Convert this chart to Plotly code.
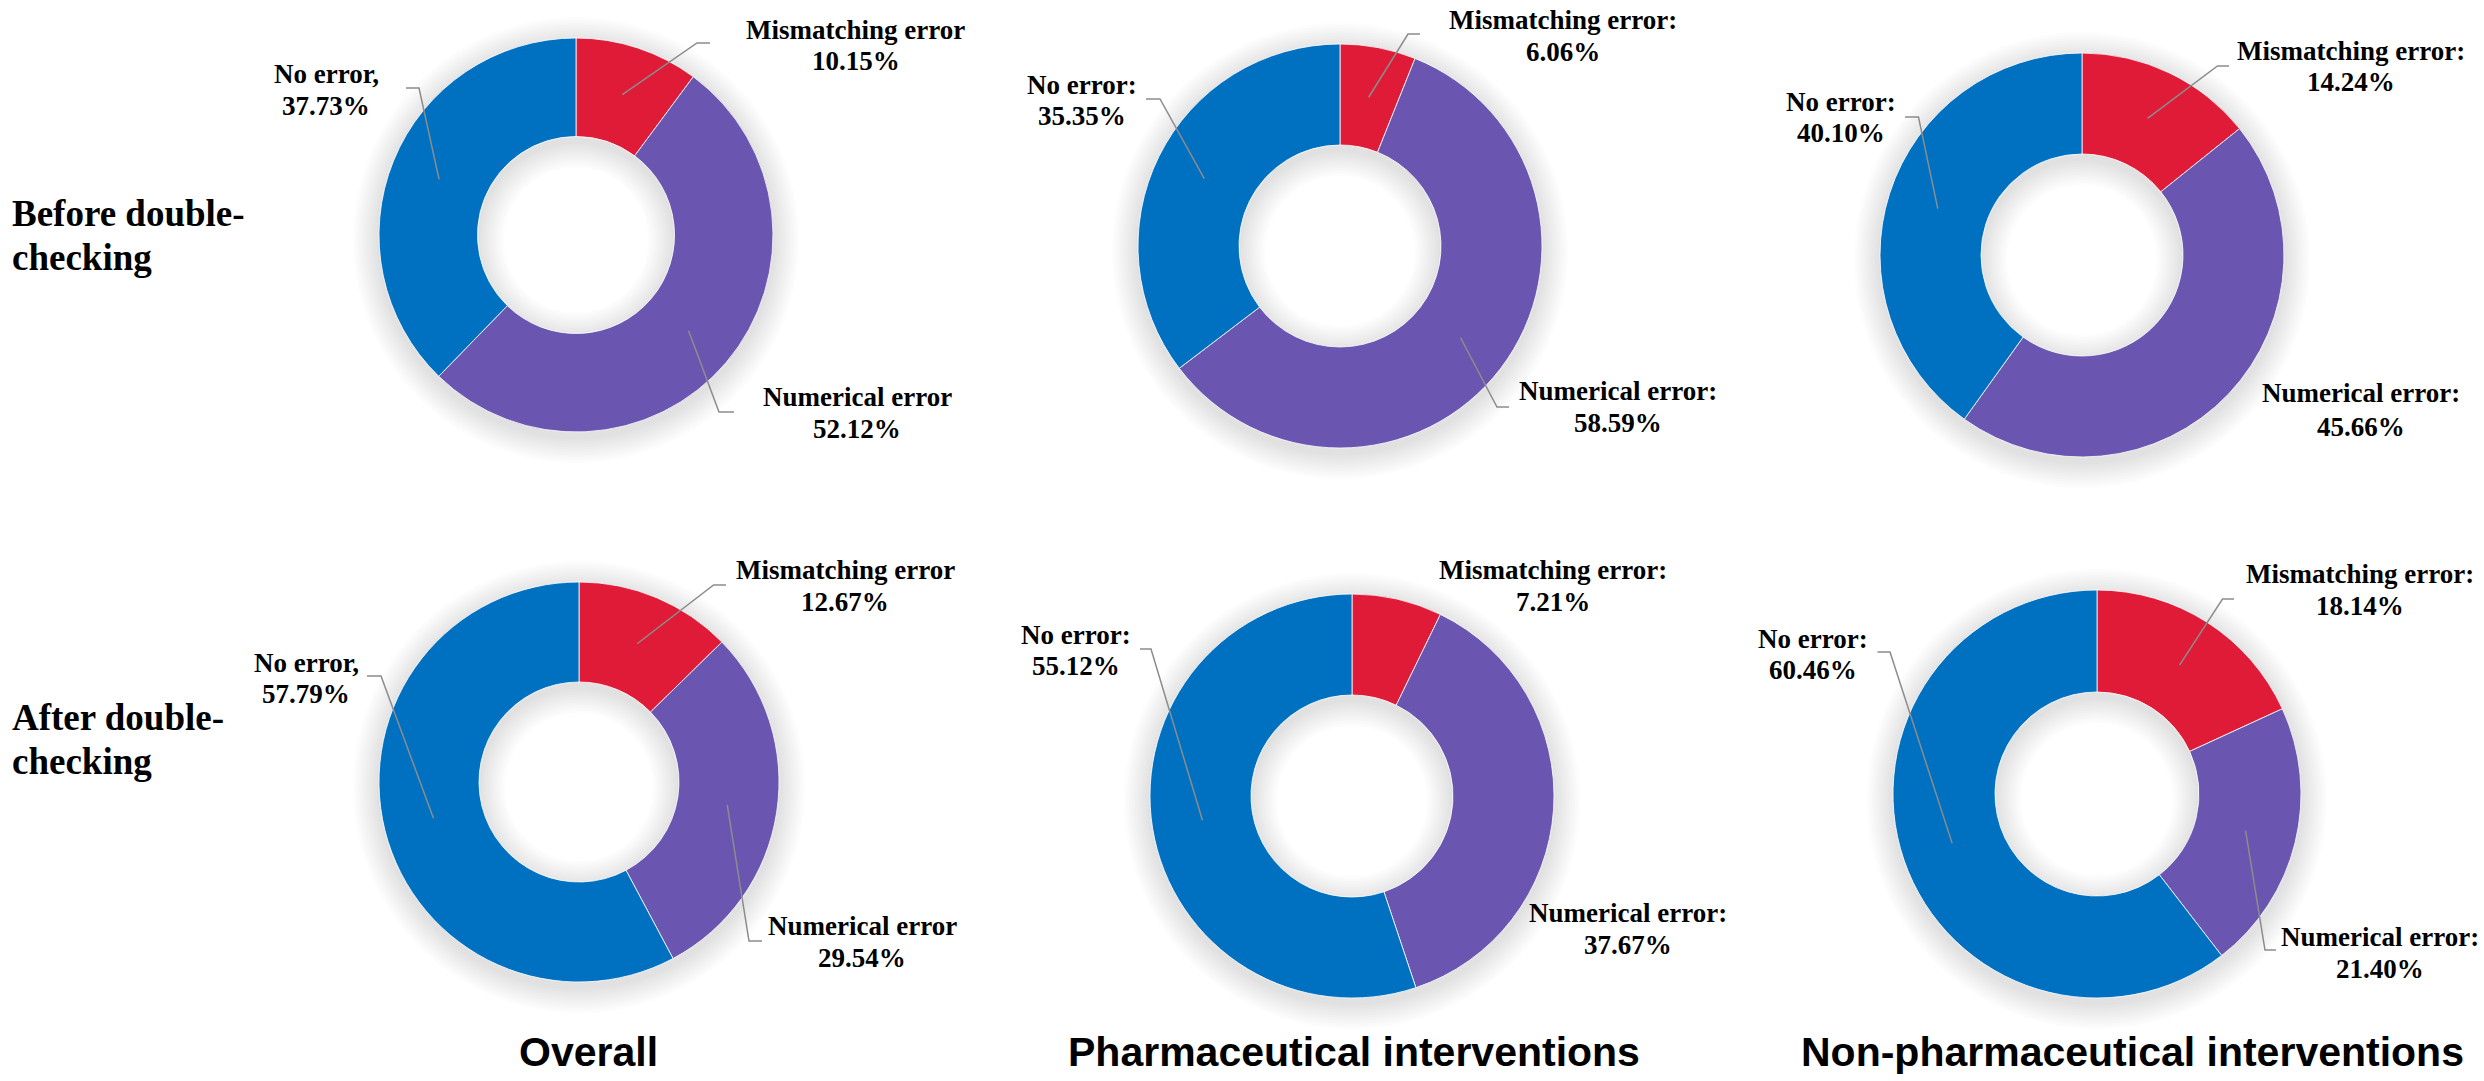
import math
import plotly.graph_objects as go

W, H = 2484, 1081

# ---------------- data ----------------
categories = ["Mismatching error", "Numerical error", "No error"]
colors = ["#DF1B38", "#6A56B0", "#0070C0"]
column_titles = ["Overall", "Pharmaceutical interventions", "Non-pharmaceutical interventions"]
row_titles = [["Before double-", "checking"], ["After double-", "checking"]]

before_overall = [10.15, 52.12, 37.73]
before_pharm = [6.06, 58.59, 35.35]
before_nonpharm = [14.24, 45.66, 40.10]
after_overall = [12.67, 29.54, 57.79]
after_pharm = [7.21, 37.67, 55.12]
after_nonpharm = [18.14, 21.40, 60.46]

overall_sep = ["", "", ","]
other_sep = [":", ":", ":"]

# ---------------- layout (pixel positions) ----------------
panels = [
    dict(values=before_overall, sep=overall_sep, c=(576, 235), R=197,
         labels=[(856, 30, 61.5), (857, 396.5, 429), (326, 73.5, 106)],
         leaders=[((697, 43), 710), ((719, 412), 734), ((419, 88), 406)]),
    dict(values=before_pharm, sep=other_sep, c=(1340, 246), R=202,
         labels=[(1563, 20, 51.5), (1618, 391.5, 423), (1082, 84.5, 115.5)],
         leaders=[((1408, 34), 1420), ((1497, 407), 1509), ((1160, 99), 1146)]),
    dict(values=before_nonpharm, sep=other_sep, c=(2082, 255), R=202,
         labels=[(2351, 51, 82), (2361, 393, 426.5), (1841, 101.5, 133)],
         leaders=[((2217.5, 66), 2229), None, ((1918.5, 117), 1905)]),
    dict(values=after_overall, sep=overall_sep, c=(579, 782), R=200,
         labels=[(845, 570, 602), (862, 926, 957.5), (306, 662.5, 693.5)],
         leaders=[((713.6, 585), 726), ((749, 941), 762), ((381, 676), 367)]),
    dict(values=after_pharm, sep=other_sep, c=(1352, 796), R=202,
         labels=[(1553, 570, 601.5), (1628, 913, 944.5), (1076, 634.5, 666)],
         leaders=[None, None, ((1151, 649), 1140)]),
    dict(values=after_nonpharm, sep=other_sep, c=(2097, 794), R=204,
         labels=[(2360, 574, 606), (2380, 937, 968.7), (1813, 638.6, 670)],
         leaders=[((2222.5, 599), 2234), ((2265, 950), 2276), ((1890, 652), 1877.5)]),
]

HOLE = 0.5
LABEL_FONT = dict(family="Times New Roman, Liberation Serif, serif", size=27, color="black", weight="bold")
ROW_FONT = dict(family="Times New Roman, Liberation Serif, serif", size=37, color="black", weight="bold")
TITLE_FONT = dict(family="Arial, Liberation Sans, sans-serif", size=41, color="black", weight="bold")


def px(x):
    return x / W


def py(y):
    return 1 - y / H


def ring_pts(cx, cy, r, n=120, reverse=False):
    pts = []
    for i in range(n):
        a = 2 * math.pi * i / n
        if reverse:
            a = -a
        pts.append((cx + r * math.cos(a), cy + r * math.sin(a)))
    return "M " + " L ".join(f"{px(x):.6f},{py(y):.6f}" for x, y in pts) + " Z"


def annulus_path(cx, cy, r_out, r_in):
    return ring_pts(cx, cy, r_out) + " " + ring_pts(cx, cy, max(r_in, 1), reverse=True)


fig = go.Figure()
shapes = []
annotations = []

for p in panels:
    cx, cy = p["c"]
    R = p["R"]
    r_in = R * HOLE
    # soft drop shadow of the ring (offset downward, blurred by layering)
    for k in range(1, 11):
        s = 2.6 * k
        shapes.append(dict(type="path", xref="paper", yref="paper", layer="below",
                           path=annulus_path(cx, cy + 5, R + s, r_in - s),
                           fillcolor="rgba(0,0,0,0.011)", line=dict(width=0)))

    fig.add_trace(go.Pie(
        values=p["values"], labels=categories, sort=False, direction="clockwise",
        rotation=0, hole=HOLE, textinfo="none", hoverinfo="label+percent",
        marker=dict(colors=colors, line=dict(color="rgba(255,255,255,0.8)", width=1)),
        domain=dict(x=[px(cx - R), px(cx + R)], y=[py(cy + R), py(cy - R)]),
        showlegend=False,
    ))

    total = sum(p["values"])
    cum = 0.0
    for i, v in enumerate(p["values"]):
        mid = (cum + v / 2) / total * 2 * math.pi
        cum += v
        lx, y1, y2 = p["labels"][i]
        annotations.append(dict(x=px(lx), y=py(y1), xref="paper", yref="paper",
                                text=categories[i] + p["sep"][i], showarrow=False,
                                xanchor="center", yanchor="middle", font=LABEL_FONT))
        annotations.append(dict(x=px(lx), y=py(y2), xref="paper", yref="paper",
                                text=f"{v:.2f}%", showarrow=False,
                                xanchor="center", yanchor="middle", font=LABEL_FONT))
        ld = p["leaders"][i]
        if ld is not None:
            (ex, ey), endx = ld
            ix = cx + 0.75 * R * math.sin(mid)
            iy = cy - 0.75 * R * math.cos(mid)
            shapes.append(dict(type="path", xref="paper", yref="paper", layer="above",
                               path=f"M {px(ix):.6f},{py(iy):.6f} L {px(ex):.6f},{py(ey):.6f} L {px(endx):.6f},{py(ey):.6f}",
                               line=dict(color="#8C8C8C", width=1.5)))

# row titles
row_line_y = [(213.5, 257), (717, 761)]
for r, lines in enumerate(row_titles):
    for j, t in enumerate(lines):
        annotations.append(dict(x=px(10), y=py(row_line_y[r][j]), xref="paper", yref="paper",
                                text=t, showarrow=False, xanchor="left", yanchor="middle",
                                font=ROW_FONT))

# column titles
title_x = [588, 1354, 2132]
for t, x in zip(column_titles, title_x):
    annotations.append(dict(x=px(x), y=py(1077), xref="paper", yref="paper", text=t,
                            showarrow=False, xanchor="center", yanchor="bottom",
                            font=TITLE_FONT))

fig.update_layout(
    width=W, height=H, margin=dict(l=0, r=0, t=0, b=0),
    paper_bgcolor="white", plot_bgcolor="white",
    shapes=shapes, annotations=annotations,
)

fig.write_html("out.html", config={"displayModeBar": False},
               post_script="document.body.style.margin='0';document.body.style.overflow='hidden';")
